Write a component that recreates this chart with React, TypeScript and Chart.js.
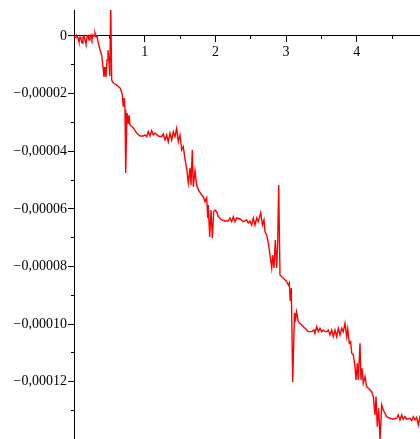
import React, { useEffect, useRef } from 'react';
import { Chart, registerables } from 'chart.js';

Chart.register(...registerables);

// x positions of the sampled curve
const xValues = [
  0, 0.0141, 0.0283, 0.0424, 0.0566, 0.0707, 0.0849, 0.099, 0.1132, 0.1273,
  0.1414, 0.1556, 0.1697, 0.1839, 0.198, 0.2122, 0.2263, 0.2405, 0.2546, 0.2687,
  0.2829, 0.297, 0.3112, 0.3253, 0.3395, 0.3678, 0.3918, 0.4102, 0.4243, 0.4385,
  0.4526, 0.4668, 0.4809, 0.495, 0.5064, 0.5191, 0.5332, 0.5559, 0.604, 0.6506,
  0.6747, 0.6832, 0.6973, 0.7115, 0.7214, 0.7313, 0.7496, 0.768, 0.7779, 0.7921,
  0.8388, 0.8868, 0.9335, 0.9802, 1.0042, 1.0283, 1.0509, 1.075, 1.099, 1.1216,
  1.1457, 1.1924, 1.2405, 1.2631, 1.2871, 1.3112, 1.3338, 1.3579, 1.3819, 1.4045,
  1.4286, 1.4526, 1.4752, 1.4993, 1.5233, 1.546, 1.57, 1.594, 1.6167, 1.6407,
  1.6549, 1.6733, 1.6874, 1.7115, 1.7355, 1.7581, 1.8062, 1.8289, 1.8529, 1.8769,
  1.8911, 1.8996, 1.9194, 1.9378, 1.9562, 1.976, 1.9943, 2.0184, 2.041, 2.0891,
  2.1358, 2.1825, 2.2065, 2.2306, 2.2532, 2.2772, 2.3013, 2.348, 2.3946, 2.4427,
  2.4653, 2.4894, 2.5134, 2.5361, 2.5601, 2.5842, 2.6068, 2.6407, 2.6662, 2.6874,
  2.7016, 2.7256, 2.7482, 2.7723, 2.7963, 2.8105, 2.8289, 2.8472, 2.867, 2.8812,
  2.8953, 2.9137, 2.9378, 2.9604, 3.0085, 3.0311, 3.0453, 3.0594, 3.0736, 3.0934,
  3.1188, 3.133, 3.1471, 3.1726, 3.2207, 3.2673, 3.314, 3.3621, 3.3946, 3.4088,
  3.4328, 3.4554, 3.4795, 3.5035, 3.5262, 3.5502, 3.5743, 3.5969, 3.6209, 3.645,
  3.6676, 3.6917, 3.7157, 3.7383, 3.7624, 3.7864, 3.8091, 3.8331, 3.8572, 3.8713,
  3.8939, 3.9137, 3.9279, 3.9505, 3.9745, 3.9887, 4.0071, 4.0212, 4.0453, 4.0594,
  4.0736, 4.0919, 4.116, 4.14, 4.1627, 4.2107, 4.2334, 4.2574, 4.2716, 4.29,
  4.3098, 4.3281, 4.3522, 4.3748, 4.4229, 4.4696, 4.5163, 4.5644, 4.587, 4.611,
  4.6351, 4.6577, 4.6818, 4.7058, 4.7525, 4.7765, 4.7992, 4.8232, 4.8472, 4.8699,
  4.8939, 4.9222,
];

// y values of the curve, in units of 1e-5
const yValues = [
  0, 0, -0.052, 0, -0.069, -0.208, -0.035, -0.104, -0.243, -0.035,
  0, -0.139, -0.278, -0.035, 0.035, -0.139, -0.035, 0.035, -0.104, 0.035,
  0, 0.104, -0.035, 0.035, -0.208, -0.486, -0.659, -1.076, -1.423, -1.076,
  -1.423, -0.833, -0.486, -0.902, -1.388, 1.076, -1.527, -1.631, -1.701, -1.805,
  -1.944, -2.048, -2.454, -2.152, -2.569, -4.755, -2.673, -3.02, -2.742, -3.089,
  -3.193, -3.367, -3.471, -3.471, -3.436, -3.495, -3.322, -3.471, -3.287, -3.436,
  -3.367, -3.471, -3.495, -3.402, -3.61, -3.436, -3.669, -3.377, -3.61, -3.322,
  -3.495, -3.204, -3.669, -3.436, -3.957, -3.842, -4.269, -4.616, -5.102, -4.582,
  -5.172, -3.957, -5.231, -4.686, -5.172, -5.345, -5.519, -5.578, -5.751, -5.623,
  -6.317, -5.866, -6.977, -6.04, -7.011, -6.099, -6.04, -6.099, -6.272, -6.387,
  -6.421, -6.421, -6.317, -6.446, -6.272, -6.446, -6.317, -6.352, -6.446, -6.387,
  -6.491, -6.421, -6.56, -6.317, -6.56, -6.317, -6.446, -6.133, -6.56, -6.387,
  -6.793, -6.907, -7.185, -7.601, -8.053, -7.601, -8.053, -7.081, -8.053, -7.14,
  -5.172, -8.296, -8.355, -8.4, -8.528, -8.643, -8.573, -9.198, -8.747, -12.01,
  -9.615, -9.823, -9.57, -9.917, -10.031, -10.146, -10.264, -10.264, -10.205, -10.319,
  -10.09, -10.264, -10.146, -10.264, -10.205, -10.264, -10.264, -10.205, -10.378, -10.205,
  -10.437, -10.205, -10.437, -10.146, -10.378, -10.146, -10.264, -9.972, -10.437, -10.17,
  -10.666, -10.611, -11.013, -11.072, -11.479, -11.94, -11.361, -11.94, -10.666, -11.94,
  -11.534, -12.055, -11.826, -12.173, -12.228, -12.346, -12.52, -13.155, -12.52, -13.561,
  -12.923, -14.023, -12.808, -12.982, -13.214, -13.27, -13.304, -13.27, -13.155, -13.329,
  -13.155, -13.304, -13.214, -13.304, -13.27, -13.353, -13.214, -13.329, -13.235, -13.503,
  -13.214, -13.294,
];

const Y_UNIT = 1e-5;

const xTicks = [0, 0.5, 1, 1.5, 2, 2.5, 3, 3.5, 4, 4.5];
const xTickLabels = ['', '', '1', '', '2', '', '3', '', '4', ''];
const xMajorTicks = [0, 1, 2, 3, 4];

// y ticks in units of 1e-5
const yTicks = [0, -1, -2, -3, -4, -5, -6, -7, -8, -9, -10, -11, -12, -13];
const yTickLabels = [
  '0', '', '−0,00002', '', '−0,00004', '', '−0,00006', '',
  '−0,00008', '', '−0,00010', '', '−0,00012', '',
];
const yMajorTicks = [0, -2, -4, -6, -8, -10, -12];

const X_MIN = 0;
const X_MAX = 4.894;
const Y_MIN = -13.99;
const Y_MAX = 0.9025;

const near = (a: number, b: number) => Math.abs(a - b) < 1e-6;

export default function App() {
  const ref = useRef<HTMLCanvasElement | null>(null);

  useEffect(() => {
    if (!ref.current) return;
    const font = { family: "'Liberation Serif', 'Times New Roman', serif", size: 14 };
    const points = xValues.map((x, i) => ({ x, y: yValues[i] * Y_UNIT }));

    const chart = new Chart(ref.current, {
      type: 'line',
      data: {
        datasets: [
          {
            data: points,
            borderColor: '#ff0000',
            borderWidth: 1.4,
            pointRadius: 0,
            tension: 0,
            fill: false,
          },
        ],
      },
      options: {
        animation: false,
        responsive: false,
        events: [],
        layout: { padding: { top: 10, left: 0, right: 0, bottom: 0 } },
        plugins: { legend: { display: false }, tooltip: { enabled: false } },
        scales: {
          x: {
            type: 'linear',
            position: { y: 0 } as any,
            min: X_MIN,
            max: X_MAX,
            afterBuildTicks: (scale: any) => {
              scale.ticks = xTicks.map((v) => ({ value: v }));
            },
            afterFit: (scale: any) => {
              scale.paddingLeft = 0;
              scale.paddingRight = 0;
            },
            ticks: {
              autoSkip: false,
              maxRotation: 0,
              padding: 2,
              color: '#000',
              font,
              callback: (value: any) => {
                const i = xTicks.findIndex((t) => near(t, Number(value)));
                return i >= 0 ? xTickLabels[i] : '';
              },
            },
            border: { display: true, color: '#000', width: 1 },
            grid: {
              drawOnChartArea: false,
              drawTicks: true,
              tickLength: 6,
              tickColor: '#000',
              tickWidth: 1,
              tickBorderDash: (ctx: any) =>
                xMajorTicks.some((t) => near(t, ctx.tick ? ctx.tick.value : 0)) ? [] : [3, 3],
              tickBorderDashOffset: 0,
            } as any,
          },
          y: {
            type: 'linear',
            position: 'left',
            min: Y_MIN * Y_UNIT,
            max: Y_MAX * Y_UNIT,
            afterBuildTicks: (scale: any) => {
              scale.ticks = yTicks.map((v) => ({ value: v * Y_UNIT }));
            },
            afterFit: (scale: any) => {
              scale.width = 74;
              scale.paddingTop = 0;
              scale.paddingBottom = 0;
            },
            ticks: {
              autoSkip: false,
              padding: 1,
              color: '#000',
              font,
              callback: (value: any) => {
                const v = Number(value) / Y_UNIT;
                const i = yTicks.findIndex((t) => Math.abs(t - v) < 1e-3);
                return i >= 0 ? yTickLabels[i] : '';
              },
            },
            border: { display: true, color: '#000', width: 1 },
            grid: {
              drawOnChartArea: false,
              drawTicks: true,
              tickLength: 6,
              tickColor: '#000',
              tickWidth: 1,
              tickBorderDash: (ctx: any) => {
                const v = ctx.tick ? ctx.tick.value / Y_UNIT : 0;
                return yMajorTicks.some((t) => Math.abs(t - v) < 1e-3) ? [] : [3, 3];
              },
              tickBorderDashOffset: (ctx: any) => {
                const v = ctx.tick ? ctx.tick.value / Y_UNIT : 0;
                return yMajorTicks.some((t) => Math.abs(t - v) < 1e-3) ? 0 : 3;
              },
            } as any,
          },
        },
      },
    });
    return () => chart.destroy();
  }, []);

  return (
    <div style={{ position: 'absolute', left: 0, top: 0, width: 420, height: 439, background: '#fff' }}>
      <canvas ref={ref} width={420} height={439} style={{ display: 'block' }} />
    </div>
  );
}
